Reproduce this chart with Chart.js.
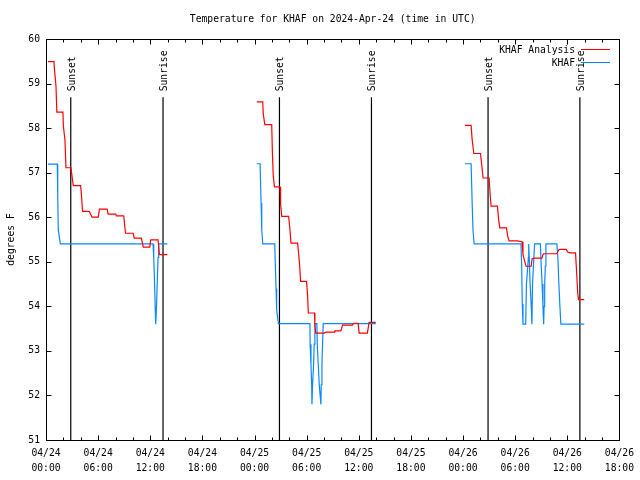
<!DOCTYPE html>
<html lang="en">
<head>
<meta charset="UTF-8">
<title>Temperature for KHAF</title>
<script src="https://cdn.jsdelivr.net/npm/chart.js"></script>
<style>
  body { margin: 0; padding: 0; background: #fff; }
</style>
</head>
<body>
<canvas id="chart" width="640" height="480"></canvas>
<script>
const titleText = 'Temperature for KHAF on 2024-Apr-24 (time in UTC)';
const yTitle = 'degrees F';

// hours since 2024-04-24 00:00 UTC, null breaks the line between nights
const analysisHours = [
  0.23, 0.92, 0.95, 1.15, 1.25, 1.95, 2.00, 2.18, 2.30, 2.87, 2.95, 3.14, 3.98, 4.05, 4.21, 4.97,
  5.30, 6.01, 6.15, 7.04, 7.15, 8.03, 8.10, 8.95, 9.15, 10.03, 10.15, 10.98, 11.20, 11.94, 12.05,
  12.90, 13.05, 13.97,
  19,
  24.26, 24.95, 25.00, 25.18, 25.98, 26.05, 26.15, 26.29, 26.94, 27.00, 27.13, 27.93, 28.08, 28.20,
  28.96, 29.16, 29.31, 29.99, 30.11, 30.19, 30.90, 30.95, 31.05, 32.02, 32.22, 33.17, 33.25, 33.94,
  34.13, 35.28, 35.40, 35.93, 36.04, 36.99, 37.19, 37.96,
  43,
  48.21, 48.93, 49.05, 49.24, 50.01, 50.15, 50.31, 51.00, 51.15, 51.23, 51.96, 52.10, 52.23, 52.99,
  53.15, 53.30, 54.22, 54.79, 54.90, 55.25, 55.85, 55.95, 56.21, 57.08, 57.20, 57.28, 58.80, 59.03,
  59.19, 59.88, 60.05, 60.26, 60.95, 61.10, 61.20, 61.29, 61.95
];
const analysisTemps = [
  59.49, 59.49, 59.38, 58.94, 58.36, 58.36, 58.04, 57.74, 57.11, 57.11, 56.99, 56.71, 56.71, 56.58, 56.13, 56.13,
  56.00, 56.00, 56.18, 56.18, 56.07, 56.07, 56.03, 56.03, 55.64, 55.64, 55.53, 55.53, 55.33, 55.33, 55.49,
  55.49, 55.16, 55.16,
  null,
  58.59, 58.59, 58.33, 58.08, 58.08, 57.50, 56.95, 56.68, 56.68, 56.30, 56.02, 56.02, 55.72, 55.42,
  55.42, 55.01, 54.56, 54.56, 54.24, 53.85, 53.85, 53.58, 53.40, 53.40, 53.42, 53.42, 53.45, 53.45,
  53.58, 53.58, 53.62, 53.62, 53.40, 53.40, 53.64, 53.64,
  null,
  58.06, 58.06, 57.74, 57.43, 57.43, 57.18, 56.88, 56.88, 56.43, 56.25, 56.25, 55.94, 55.76, 55.76,
  55.57, 55.47, 55.47, 55.45, 55.16, 54.90, 54.90, 55.07, 55.08, 55.08, 55.16, 55.18, 55.18, 55.27,
  55.28, 55.28, 55.22, 55.20, 55.20, 54.67, 54.30, 54.15, 54.15
];

const obsHours = [
  0.23, 1.30, 1.35, 1.41, 1.65, 12.32, 12.40, 12.50, 12.58, 12.63, 12.70, 12.80, 12.90, 12.97, 13.97,
  19,
  24.26, 24.64, 24.76, 24.83, 24.95, 26.33, 26.40, 26.48, 26.55, 26.75, 30.38, 30.40, 30.50, 30.58,
  30.61, 30.68, 30.80, 30.87, 30.95, 31.18, 31.22, 31.34, 31.45, 31.64, 31.68, 31.76, 31.83, 31.91, 37.96,
  43,
  48.21, 48.93, 49.05, 49.15, 49.28, 54.67, 54.75, 54.82, 54.90, 55.21, 55.30, 55.45, 55.52, 55.56,
  55.62, 55.72, 55.85, 55.93, 56.00, 56.10, 56.24, 56.90, 57.00, 57.10, 57.20, 57.28, 57.33, 57.40,
  57.47, 57.54, 58.80, 58.92, 59.03, 59.15, 59.26, 61.95
];
const obsTemps = [
  57.19, 57.19, 56.50, 55.72, 55.40, 55.40, 55.10, 54.50, 53.90, 53.60, 53.90, 54.50, 55.10, 55.40, 55.40,
  null,
  57.20, 57.20, 56.32, 55.72, 55.40, 55.40, 54.90, 54.40, 53.92, 53.61, 53.61, 53.15, 52.69, 52.24,
  51.80, 52.24, 52.69, 53.15, 53.61, 53.61, 53.15, 52.69, 52.24, 51.80, 52.24, 52.69, 53.15, 53.61, 53.61,
  null,
  57.20, 57.20, 56.32, 55.70, 55.40, 55.40, 54.90, 54.05, 53.60, 53.60, 54.50, 54.90, 55.10, 55.40,
  55.10, 54.50, 54.00, 53.60, 54.50, 54.90, 55.40, 55.40, 54.90, 54.50, 54.00, 53.60, 54.00, 54.50,
  54.90, 55.40, 55.40, 55.08, 54.50, 54.00, 53.60, 53.60
];

const sunsetHours = [2.85, 26.87, 50.88];
const sunriseHours = [13.47, 37.46, 61.45];
const sunLineTop = 58.69;

const xTickLabels = [
  ['04/24', '00:00'], ['04/24', '06:00'], ['04/24', '12:00'], ['04/24', '18:00'],
  ['04/25', '00:00'], ['04/25', '06:00'], ['04/25', '12:00'], ['04/25', '18:00'],
  ['04/26', '00:00'], ['04/26', '06:00'], ['04/26', '12:00'], ['04/26', '18:00']
];

const fontFamily = "'DejaVu Sans Mono', monospace";
const fontSize = 9.7;

function pairs(xs, ys) {
  return xs.map((x, i) => ({ x: x, y: ys[i] }));
}

function sunPoints() {
  const pts = [];
  sunsetHours.concat(sunriseHours).forEach(h => {
    pts.push({ x: h, y: 51 }, { x: h, y: sunLineTop }, { x: h, y: null });
  });
  return pts;
}

const decor = {
  id: 'decor',
  afterDraw(chart) {
    const ctx = chart.ctx;
    const a = chart.chartArea;
    const xs = chart.scales.x, ys = chart.scales.y;
    const L = Math.floor(a.left) + 0.5, R = Math.floor(a.right) + 0.5;
    const T = Math.floor(a.top) + 0.5, B = Math.floor(a.bottom) + 0.5;
    ctx.save();
    ctx.strokeStyle = '#000';
    ctx.lineWidth = 1;
    ctx.strokeRect(L, T, R - L, B - T);

    // inward tick marks on all four sides
    ctx.beginPath();
    for (let v = 0; v <= 66; v += 2) {
      const px = Math.round(xs.getPixelForValue(v)) + 0.5;
      const len = v % 6 === 0 ? 5 : 3;
      ctx.moveTo(px, B); ctx.lineTo(px, B - len);
      ctx.moveTo(px, T); ctx.lineTo(px, T + len);
    }
    for (let v = 51; v <= 60; v++) {
      const py = Math.round(ys.getPixelForValue(v)) + 0.5;
      ctx.moveTo(L, py); ctx.lineTo(L + 5, py);
      ctx.moveTo(R, py); ctx.lineTo(R - 5, py);
    }
    ctx.stroke();

    ctx.fillStyle = '#000';
    ctx.font = fontSize + 'px ' + fontFamily;

    // title
    ctx.textAlign = 'center';
    ctx.textBaseline = 'middle';
    ctx.fillText(titleText, (a.left + a.right) / 2, 19);

    // sunset / sunrise labels
    const topPx = ys.getPixelForValue(sunLineTop);
    const label = (h, txt) => {
      ctx.save();
      ctx.translate(Math.round(xs.getPixelForValue(h)) + 1, topPx - 6);
      ctx.rotate(-Math.PI / 2);
      ctx.textAlign = 'left';
      ctx.textBaseline = 'middle';
      ctx.fillText(txt, 0, 0);
      ctx.restore();
    };
    sunsetHours.forEach(h => label(h, 'Sunset'));
    sunriseHours.forEach(h => label(h, 'Sunrise'));

    // key
    [0, 1].forEach(i => {
      const ds = chart.data.datasets[i];
      const y = 50 + i * 13;
      ctx.textAlign = 'right';
      ctx.fillText(ds.label, 575, y);
      ctx.strokeStyle = ds.borderColor;
      ctx.beginPath();
      ctx.moveTo(581, Math.round(y) - 0.5);
      ctx.lineTo(610, Math.round(y) - 0.5);
      ctx.stroke();
    });
    ctx.restore();
  }
};

new Chart(document.getElementById('chart'), {
  type: 'line',
  data: {
    datasets: [
      { label: 'KHAF Analysis', data: pairs(analysisHours, analysisTemps), borderColor: '#ff0000', borderWidth: 1.2 },
      { label: 'KHAF', data: pairs(obsHours, obsTemps), borderColor: '#0a88ff', borderWidth: 1.2 },
      { label: 'sun', data: sunPoints(), borderColor: '#000000', borderWidth: 1.2 }
    ]
  },
  options: {
    responsive: false,
    animation: false,
    spanGaps: false,
    elements: { point: { radius: 0 }, line: { tension: 0 } },
    layout: { padding: { left: 0, right: 19, top: 39, bottom: 0 } },
    plugins: { legend: { display: false }, tooltip: { enabled: false } },
    scales: {
      x: {
        type: 'linear', min: 0, max: 66,
        grid: { display: false, drawTicks: false },
        border: { display: false },
        ticks: {
          stepSize: 2, autoSkip: false, maxRotation: 0, padding: 6, color: '#000',
          font: { family: fontFamily, size: fontSize, lineHeight: 1.55 },
          callback: v => (v % 6 === 0 ? xTickLabels[v / 6] : '')
        },
        afterFit: s => { s.height = 40; }
      },
      y: {
        min: 51, max: 60,
        grid: { display: false, drawTicks: false },
        border: { display: false },
        ticks: { stepSize: 1, padding: 6, color: '#000', font: { family: fontFamily, size: fontSize } },
        title: { display: true, text: yTitle, color: '#000', font: { family: fontFamily, size: fontSize }, padding: { top: 6, bottom: 0 } },
        afterFit: s => { s.width = 46; }
      }
    }
  },
  plugins: [decor]
});
</script>
</body>
</html>
